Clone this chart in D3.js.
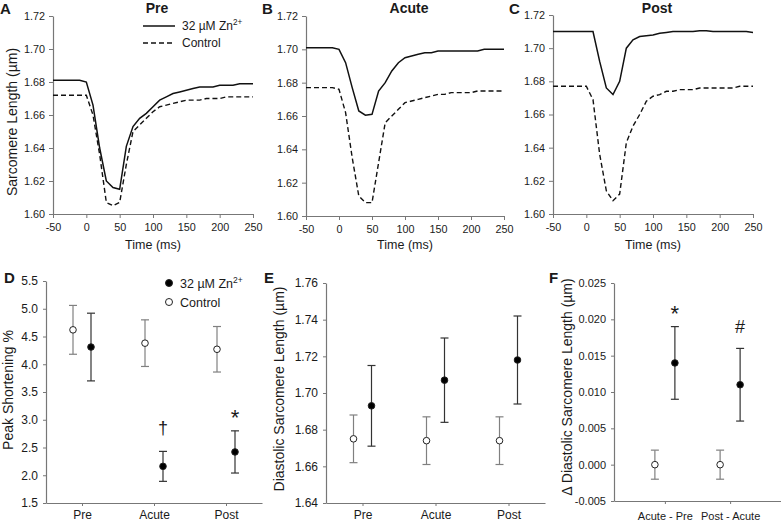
<!DOCTYPE html>
<html>
<head>
<meta charset="utf-8">
<script src="https://cdn.jsdelivr.net/npm/d3@7"></script>
<style>
  html, body { margin: 0; padding: 0; background: #fff; }
  svg { display: block; font-family: "Liberation Sans", Arial, sans-serif; }
</style>
</head>
<body>
<svg id="chart" width="781" height="523"></svg>
<script>
// ---------- DATA ----------
const times = [-50,-40,-30,-20,-10,0,10,20,30,40,50,60,70,80,90,100,110,120,130,140,150,160,170,180,190,200,210,220,230,240,250];

const preZn   = [1.681,1.681,1.681,1.681,1.681,1.680,1.666,1.640,1.620,1.616,1.615,1.641,1.653,1.658,1.661,1.665,1.669,1.671,1.673,1.674,1.675,1.676,1.677,1.677,1.677,1.678,1.678,1.678,1.679,1.679,1.679];
const preCtrl = [1.672,1.672,1.672,1.672,1.672,1.672,1.660,1.636,1.607,1.605,1.607,1.630,1.650,1.654,1.658,1.662,1.665,1.666,1.667,1.668,1.669,1.669,1.669,1.670,1.670,1.670,1.671,1.671,1.671,1.671,1.671];

const acuteZn   = [1.701,1.701,1.701,1.701,1.701,1.700,1.692,1.677,1.663,1.6605,1.661,1.675,1.680,1.687,1.692,1.695,1.696,1.697,1.698,1.698,1.699,1.699,1.699,1.699,1.699,1.699,1.699,1.700,1.700,1.700,1.700];
const acuteCtrl = [1.677,1.677,1.677,1.677,1.677,1.676,1.662,1.635,1.612,1.608,1.608,1.632,1.656,1.660,1.664,1.668,1.669,1.670,1.671,1.672,1.673,1.673,1.674,1.674,1.674,1.674,1.675,1.675,1.675,1.675,1.675];

const postZn   = [1.710,1.710,1.710,1.710,1.710,1.710,1.710,1.692,1.676,1.672,1.680,1.700,1.705,1.707,1.7075,1.708,1.709,1.7095,1.710,1.710,1.710,1.710,1.7105,1.7105,1.710,1.710,1.710,1.710,1.710,1.710,1.7095];
const postCtrl = [1.677,1.677,1.677,1.677,1.677,1.677,1.669,1.636,1.614,1.608,1.612,1.643,1.653,1.660,1.668,1.671,1.672,1.674,1.674,1.675,1.675,1.675,1.676,1.676,1.676,1.676,1.676,1.676,1.677,1.677,1.677];

const timeTicks = [-50,0,50,100,150,200,250];
const slTicks = [1.60,1.62,1.64,1.66,1.68,1.70,1.72];

const phases = ["Pre","Acute","Post"];
const shortCtrl    = [4.62, 4.38, 4.27];
const shortCtrlErr = [0.44, 0.42, 0.41];
const shortZn      = [4.31, 2.16, 2.42];
const shortZnErr   = [0.61, 0.27, 0.38];
const shortTicks = [1.5,2.0,2.5,3.0,3.5,4.0,4.5,5.0,5.5];
const shortMarks = ["", "†", "*"];

const diasCtrl    = [1.675, 1.674, 1.674];
const diasCtrlErr = [0.013, 0.013, 0.013];
const diasZn      = [1.693, 1.707, 1.718];
const diasZnErr   = [0.022, 0.023, 0.024];
const diasTicks = [1.64,1.66,1.68,1.70,1.72,1.74,1.76];

const deltaCats = ["Acute - Pre", "Post - Acute"];
const deltaCtrl    = [0.000, 0.000];
const deltaCtrlErr = [0.002, 0.002];
const deltaZn      = [0.014, 0.011];
const deltaZnErr   = [0.005, 0.005];
const deltaTicks = [-0.005,0.000,0.005,0.010,0.015,0.020,0.025];
const deltaMarks = ["*", "#"];

// ---------- DRAWING ----------
const svg = d3.select("#chart");
svg.append("rect").attr("width",781).attr("height",523).attr("fill","#fff");

const AXIS = "#777";
const TXT = "#1a1a1a";
const hy = f => (d => f(d).replace("−", "-"));

function styleAxis(g, fs) {
  g.selectAll(".domain").attr("stroke", AXIS).attr("stroke-width", 1.2);
  g.selectAll(".tick line").attr("stroke", AXIS).attr("stroke-width", 1);
  g.selectAll(".tick text").attr("font-size", fs).attr("fill", TXT)
    .attr("font-family", '"Liberation Sans", Arial, sans-serif');
}

function znLabel(sel, fs) {
  sel.append("tspan").text("32 µM Zn");
  sel.append("tspan").text("2+").attr("font-size", fs * 0.68).attr("dy", -fs * 0.38);
}

// Line panels
const linePanels = [
  {title:"Pre",   letter:"A", zn:preZn,   ctrl:preCtrl,   xr:[53,253],  yr:[214,16], ylabel:true, legend:true},
  {title:"Acute", letter:"B", zn:acuteZn, ctrl:acuteCtrl, xr:[306,504], yr:[216,16]},
  {title:"Post",  letter:"C", zn:postZn,  ctrl:postCtrl,  xr:[553,753], yr:[214,15]}
];

linePanels.forEach(p => {
  const x = d3.scaleLinear().domain([-50,250]).range(p.xr);
  const y = d3.scaleLinear().domain([1.60,1.72]).range(p.yr);
  const g = svg.append("g");

  const ya = g.append("g").attr("transform",`translate(${p.xr[0]},0)`)
    .call(d3.axisLeft(y).tickValues(slTicks).tickFormat(d3.format(".2f")).tickSize(4).tickSizeOuter(0).tickPadding(4));
  styleAxis(ya, 10.8);
  const xa = g.append("g").attr("transform",`translate(0,${p.yr[0]})`)
    .call(d3.axisBottom(x).tickValues(timeTicks).tickFormat(hy(d3.format("d"))).tickSize(4).tickSizeOuter(0).tickPadding(5));
  styleAxis(xa, 10.8);

  const line = d3.line().x((d,i) => x(times[i])).y(d => y(d));
  g.append("path").datum(p.ctrl).attr("d", line).attr("fill","none")
    .attr("stroke","#111").attr("stroke-width",1.4).attr("stroke-dasharray","5,3");
  g.append("path").datum(p.zn).attr("d", line).attr("fill","none")
    .attr("stroke","#111").attr("stroke-width",1.5);

  const cx = (p.xr[0]+p.xr[1])/2;
  g.append("text").attr("x", cx + 4).attr("y", 13).attr("text-anchor","middle")
    .attr("font-size",14).attr("font-weight","bold").attr("fill",TXT).text(p.title);
  g.append("text").attr("x", cx).attr("y", 249).attr("text-anchor","middle")
    .attr("font-size",12.5).attr("fill",TXT).text("Time (ms)");
  g.append("text").attr("x", p.xr[0] - (p.letter==="A"?53:44)).attr("y", 14)
    .attr("font-size",15).attr("font-weight","bold").attr("fill",TXT).text(p.letter);

  if (p.ylabel) {
    g.append("text").attr("transform",`translate(17,122) rotate(-90)`)
      .attr("text-anchor","middle").attr("font-size",14).attr("fill",TXT).text("Sarcomere Length (µm)");
  }
  if (p.legend) {
    g.append("line").attr("x1",143).attr("x2",175).attr("y1",26).attr("y2",26)
      .attr("stroke","#111").attr("stroke-width",1.5);
    znLabel(g.append("text").attr("x",182).attr("y",30).attr("font-size",12).attr("fill",TXT), 12);
    g.append("line").attr("x1",143).attr("x2",175).attr("y1",43).attr("y2",43)
      .attr("stroke","#111").attr("stroke-width",1.4).attr("stroke-dasharray","5,3");
    g.append("text").attr("x",182).attr("y",47).attr("font-size",12).attr("fill",TXT).text("Control");
  }
});

// Dot panels
const dotPanels = [
  {letter:"D", cats:phases, ctrl:shortCtrl, ctrlErr:shortCtrlErr, zn:shortZn, znErr:shortZnErr,
   domain:[1.5,5.5], ticks:shortTicks, fmt:d3.format(".1f"), xr:[46,262], pad:0.5, yr:[503,281], off:9,
   ylabel:"Peak Shortening %", ylx:13, ylc:390, marks:shortMarks, legend:true, tp:4, tfs:12, xfs:12, letterX:4},
  {letter:"E", cats:phases, ctrl:diasCtrl, ctrlErr:diasCtrlErr, zn:diasZn, znErr:diasZnErr,
   domain:[1.64,1.76], ticks:diasTicks, fmt:d3.format(".2f"), xr:[326,545], pad:0.5, yr:[503,283], off:9,
   ylabel:"Diastolic Sarcomere Length (µm)", ylx:284, ylc:389, marks:null, tp:4, tfs:12, xfs:12, letterX:264},
  {letter:"F", cats:deltaCats, ctrl:deltaCtrl, ctrlErr:deltaCtrlErr, zn:deltaZn, znErr:deltaZnErr,
   domain:[-0.005,0.025], ticks:deltaTicks, fmt:hy(d3.format(".3f")), xr:[614,781], pad:0.78, yr:[501,283], off:10,
   ylabel:"Δ Diastolic Sarcomere Length (µm)", ylx:572, ylc:387, marks:deltaMarks, tp:8, tfs:11, xfs:11, letterX:549}
];

dotPanels.forEach(p => {
  const x = d3.scalePoint().domain(p.cats).range(p.xr).padding(p.pad);
  const y = d3.scaleLinear().domain(p.domain).range(p.yr);
  const g = svg.append("g");

  const ya = g.append("g").attr("transform",`translate(${p.xr[0]},0)`)
    .call(d3.axisLeft(y).tickValues(p.ticks).tickFormat(p.fmt).tickSize(3).tickSizeOuter(0).tickPadding(5));
  styleAxis(ya, p.tfs);
  const xa = g.append("g").attr("transform",`translate(0,${p.yr[0]})`)
    .call(d3.axisBottom(x).tickSize(3).tickSizeOuter(0).tickPadding(p.tp));
  styleAxis(xa, p.xfs);

  // error bars + points
  const series = [
    {vals:p.ctrl, errs:p.ctrlErr, dx:-p.off, fill:"#fff", bar:"#808080"},
    {vals:p.zn,   errs:p.znErr,   dx: p.off, fill:"#000", bar:"#333"}
  ];
  series.forEach(s => {
    const sg = g.append("g");
    p.cats.forEach((c,i) => {
      const cx = x(c) + s.dx;
      sg.append("line").attr("x1",cx).attr("x2",cx).attr("y1",y(s.vals[i]-s.errs[i])).attr("y2",y(s.vals[i]+s.errs[i]))
        .attr("stroke",s.bar).attr("stroke-width",1.2);
      [s.vals[i]-s.errs[i], s.vals[i]+s.errs[i]].forEach(v => {
        sg.append("line").attr("x1",cx-4).attr("x2",cx+4).attr("y1",y(v)).attr("y2",y(v))
          .attr("stroke",s.bar).attr("stroke-width",1.2);
      });
      sg.append("circle").attr("cx",cx).attr("cy",y(s.vals[i])).attr("r",3.3)
        .attr("fill",s.fill).attr("stroke","#222").attr("stroke-width",1);
    });
  });

  if (p.marks) {
    p.cats.forEach((c,i) => {
      const m = p.marks[i];
      if (!m) return;
      const top = y(p.zn[i] + p.znErr[i]);
      const gap = m === "*" ? 6 : (m === "#" ? 15 : 17);
      g.append("text").attr("x", x(c) + p.off).attr("y", top - gap)
        .attr("text-anchor","middle").attr("font-size", m === "*" ? 22 : 18).attr("fill",TXT)
        .text(m);
    });
  }

  g.append("text").attr("transform",`translate(${p.ylx},${p.ylc}) rotate(-90)`)
    .attr("text-anchor","middle").attr("font-size",14).attr("fill",TXT).text(p.ylabel);
  g.append("text").attr("x", p.letterX).attr("y", 283)
    .attr("font-size",15).attr("font-weight","bold").attr("fill",TXT).text(p.letter);

  if (p.legend) {
    g.append("circle").attr("cx",169).attr("cy",283).attr("r",3.5).attr("fill","#000").attr("stroke","#222");
    znLabel(g.append("text").attr("x",180).attr("y",287.5).attr("font-size",12.5).attr("fill",TXT), 12.5);
    g.append("circle").attr("cx",169).attr("cy",302).attr("r",3.5).attr("fill","#fff").attr("stroke","#222");
    g.append("text").attr("x",180).attr("y",306.5).attr("font-size",12.5).attr("fill",TXT).text("Control");
  }
});
</script>
</body>
</html>
